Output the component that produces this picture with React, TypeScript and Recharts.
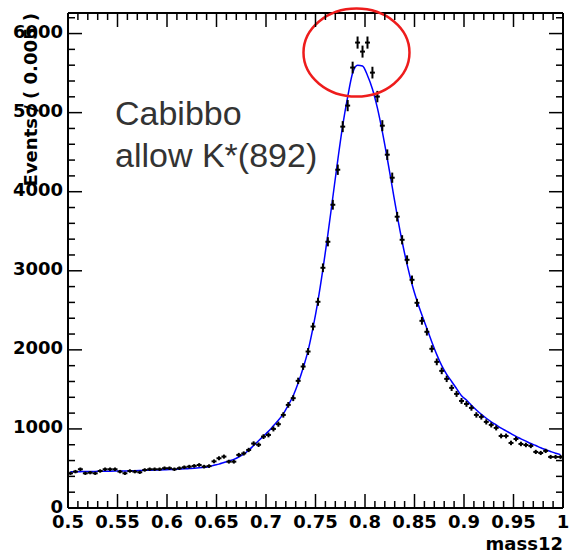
import { ComposedChart, Line, Scatter, XAxis, YAxis, ErrorBar, ReferenceDot } from "recharts"

const BIN_START = 0.5
const BIN_WIDTH = 0.005

// events per 0.005 bin, mass12 from 0.5 to 1.0
const counts = [
  439, 460, 490, 439, 447, 439, 468, 490, 490, 490, 460, 439, 468, 460, 452, 481, 490, 490, 490, 503,
  503, 490, 503, 515, 523, 532, 544, 523, 530, 590, 629, 650, 586, 586, 671, 690, 734, 815, 800, 903,
  924, 1000, 1060, 1177, 1304, 1389, 1608, 1789, 1979, 2295, 2608, 3038, 3367, 3835, 4278, 4823, 5089, 5570, 5886, 5772,
  5886, 5506, 5203, 4835, 4468, 4177, 3684, 3392, 3139, 2886, 2595, 2367, 2228, 2013, 1848, 1734, 1633, 1519, 1443, 1354,
  1316, 1266, 1177, 1152, 1089, 1051, 1013, 911, 911, 823, 873, 810, 797, 785, 709, 696, 722, 646, 646, 646,
]

// fitted curve read at the bin centres
const fitValues = [
  458, 459, 460, 461, 462, 463, 464, 465, 466, 467, 468, 469, 470, 472, 474, 476, 478, 480, 482, 484,
  486, 489, 492, 495, 499, 503, 508, 514, 522, 540, 555, 575, 595, 615, 645, 680, 730, 790, 850, 910,
  970, 1040, 1110, 1190, 1300, 1420, 1580, 1770, 1990, 2280, 2620, 3020, 3460, 3930, 4400, 4840, 5200, 5500, 5600, 5590,
  5470, 5300, 5060, 4760, 4420, 4060, 3700, 3370, 3080, 2830, 2620, 2440, 2270, 2100, 1940, 1800, 1690, 1600, 1510, 1420,
  1365, 1300, 1240, 1185, 1135, 1090, 1050, 1010, 975, 940, 905, 875, 845, 815, 790, 762, 738, 715, 693, 675,
]

const xTicks = Array.from({ length: 51 }, (_, i) => Math.round((0.5 + i * 0.01) * 100) / 100)
const yTicks = Array.from({ length: 32 }, (_, i) => i * 200)

const data = counts.map((n, i) => ({
  x: BIN_START + BIN_WIDTH * (i + 0.5),
  n,
  err: Math.sqrt(n),
  xerr: BIN_WIDTH / 2,
  fit: fitValues[i],
}))

const FONT = "'DejaVu Sans', sans-serif"

function makeTick(side: "left" | "right" | "top" | "bottom") {
  return function Tick(props: any) {
    const { x = 0, y = 0, payload } = props
    const v = payload?.value ?? 0
    const vertical = side === "left" || side === "right"
    const major = vertical ? Math.round(v) % 1000 === 0 : Math.round(v * 100) % 5 === 0
    const len = major ? 14 : 7
    let line
    if (side === "left") line = <line x1={x} y1={y} x2={x + len} y2={y} />
    else if (side === "right") line = <line x1={x} y1={y} x2={x - len} y2={y} />
    else if (side === "bottom") line = <line x1={x} y1={y} x2={x} y2={y - len} />
    else line = <line x1={x} y1={y} x2={x} y2={y + len} />
    return (
      <g>
        <g stroke="#000" strokeWidth={1.5}>{line}</g>
        {major && side === "left" && (
          <text x={x - 5} y={y + 4.5} textAnchor="end" fontFamily={FONT} fontWeight="bold" fontSize={18} fill="#000">
            {v}
          </text>
        )}
        {major && side === "bottom" && (
          <text x={x} y={y + 20} textAnchor="middle" fontFamily={FONT} fontWeight="bold" fontSize={18} fill="#000">
            {String(v)}
          </text>
        )}
      </g>
    )
  }
}

const LeftTick = makeTick("left")
const RightTick = makeTick("right")
const TopTick = makeTick("top")
const BottomTick = makeTick("bottom")

const axisLine = { stroke: "#000", strokeWidth: 2 }

export default function App() {
  return (
    <div style={{ position: "absolute", left: 0, top: 0, width: 572, height: 553, background: "#fff" }}>
      <ComposedChart width={572} height={553} data={data} margin={{ top: 12, right: 8, bottom: 0, left: 8 }}>
        <XAxis xAxisId="bottom" dataKey="x" type="number" domain={[0.5, 1]} ticks={xTicks} interval={0}
          height={45} tickSize={0} tickMargin={0} tickLine={false} axisLine={axisLine} tick={<BottomTick />} />
        <XAxis xAxisId="top" orientation="top" dataKey="x" type="number" domain={[0.5, 1]} ticks={xTicks} interval={0}
          height={1} tickSize={0} tickMargin={0} tickLine={false} axisLine={axisLine} tick={<TopTick />} />
        <YAxis yAxisId="left" type="number" domain={[0, 6260]} ticks={yTicks} interval={0}
          width={60} tickSize={0} tickMargin={0} tickLine={false} axisLine={axisLine} tick={<LeftTick />} />
        <YAxis yAxisId="right" orientation="right" type="number" domain={[0, 6260]} ticks={yTicks} interval={0}
          width={1} tickSize={0} tickMargin={0} tickLine={false} axisLine={axisLine} tick={<RightTick />} />
        <Line xAxisId="top" yAxisId="right" dataKey="fit" type="monotone" stroke="#0000ff" strokeWidth={1.5}
          dot={false} isAnimationActive={false} />
        <Scatter xAxisId="bottom" yAxisId="left" dataKey="n" shape={() => <g />} isAnimationActive={false}>
          <ErrorBar dataKey="err" direction="y" width={0} stroke="#000" strokeWidth={2} />
          <ErrorBar dataKey="xerr" direction="x" width={0} stroke="#000" strokeWidth={2} />
        </Scatter>
        <ReferenceDot xAxisId="bottom" yAxisId="left" x={0.7914} y={5759} r={1}
          shape={(p: any) => <ellipse cx={p.cx} cy={p.cy} rx={53} ry={44} fill="none" stroke="#ee1c1c" strokeWidth={2.5} />} />
      </ComposedChart>
      <svg width={572} height={553} style={{ position: "absolute", left: 0, top: 0, pointerEvents: "none" }}>
        <text transform="translate(37,13) rotate(-90)" textAnchor="end" fontFamily={FONT} fontWeight="bold" fontSize={18} fill="#000">
          Events / ( 0.005 )
        </text>
        <text x={563} y={550} textAnchor="end" fontFamily={FONT} fontWeight="bold" fontSize={18} fill="#000">
          mass12
        </text>
        <text x={115} y={125} fontFamily="'Liberation Sans', Arial, sans-serif" fontSize={34} fill="#333">Cabibbo</text>
        <text x={115} y={167} fontFamily="'Liberation Sans', Arial, sans-serif" fontSize={34} fill="#333">allow K*(892)</text>
      </svg>
    </div>
  )
}
